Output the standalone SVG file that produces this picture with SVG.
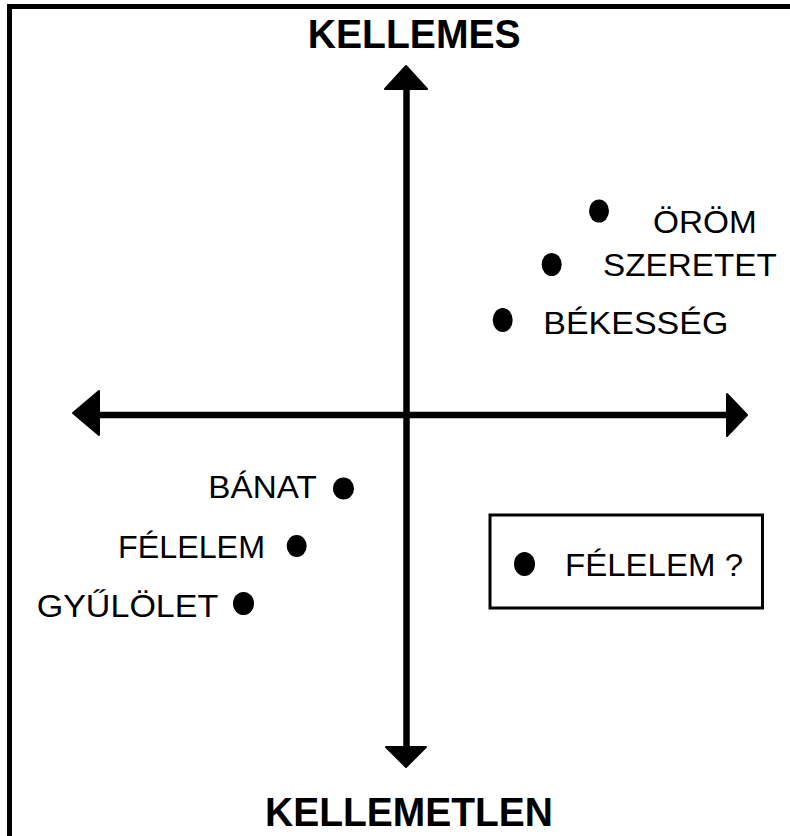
<svg xmlns="http://www.w3.org/2000/svg" width="790" height="836" viewBox="0 0 790 836">
<style>
.bg{fill:#ffffff}
.frame{stroke:#000;stroke-width:5;fill:none}
.axis{stroke:#000;stroke-width:6.5;fill:none}
.head{fill:#000;stroke:#000;stroke-width:2;stroke-linejoin:round}
.dot{fill:#000}
.lbl{font-family:"Liberation Sans",Arial,sans-serif;font-size:32px;fill:#000}
.title{font-family:"Liberation Sans",Arial,sans-serif;font-size:40px;font-weight:bold;fill:#000}
.box{fill:none;stroke:#000;stroke-width:3}
</style>
<rect class="bg" x="0" y="0" width="790" height="836"/>
<g id="frame">
<line class="frame" x1="7" y1="6.5" x2="790" y2="6.5"/>
<line class="frame" x1="9.5" y1="4" x2="9.5" y2="836"/>
</g>
<g id="connectors">
<line class="axis" x1="406.5" y1="86" x2="406.5" y2="750"/>
<polygon class="head" points="406,66 427,89 385,89"/>
<polygon class="head" points="386,747 426,747 406,767"/>
<line class="axis" x1="96" y1="415" x2="730" y2="415"/>
<polygon class="head" points="73,413 99,391 99,435"/>
<polygon class="head" points="727,394 747,415 727,436"/>
</g>
<g id="title-top"><text class="title" x="307.7" y="48" textLength="213" lengthAdjust="spacingAndGlyphs">KELLEMES</text></g>
<g id="title-bottom"><text class="title" x="265" y="826" textLength="288" lengthAdjust="spacingAndGlyphs">KELLEMETLEN</text></g>
<g id="orom">
<ellipse class="dot" cx="599" cy="211" rx="10" ry="11.5"/>
<text class="lbl" x="653" y="233" textLength="103.7" lengthAdjust="spacingAndGlyphs">ÖRÖM</text>
</g>
<g id="szeretet">
<ellipse class="dot" cx="551.7" cy="264.5" rx="10" ry="11.5"/>
<text class="lbl" x="603" y="276" textLength="173.7" lengthAdjust="spacingAndGlyphs">SZERETET</text>
</g>
<g id="bekesseg">
<ellipse class="dot" cx="502.7" cy="320" rx="10" ry="12"/>
<text class="lbl" x="543.3" y="334" textLength="185" lengthAdjust="spacingAndGlyphs">BÉKESSÉG</text>
</g>
<g id="banat">
<ellipse class="dot" cx="343.5" cy="488.5" rx="10.5" ry="11"/>
<text class="lbl" x="208.3" y="498" textLength="108.4" lengthAdjust="spacingAndGlyphs">BÁNAT</text>
</g>
<g id="felelem">
<ellipse class="dot" cx="296.7" cy="546" rx="10" ry="11"/>
<text class="lbl" x="118" y="558" textLength="147" lengthAdjust="spacingAndGlyphs">FÉLELEM</text>
</g>
<g id="gyulolet">
<ellipse class="dot" cx="243.5" cy="603.5" rx="10.5" ry="11.5"/>
<text class="lbl" x="36.7" y="617" textLength="181.6" lengthAdjust="spacingAndGlyphs">GYŰLÖLET</text>
</g>
<g id="felelem-q">
<rect class="box" x="490" y="515" width="272.5" height="93"/>
<ellipse class="dot" cx="524.5" cy="564" rx="10.5" ry="12"/>
<text class="lbl" x="565" y="576" textLength="178" lengthAdjust="spacingAndGlyphs">FÉLELEM ?</text>
</g>
</svg>
